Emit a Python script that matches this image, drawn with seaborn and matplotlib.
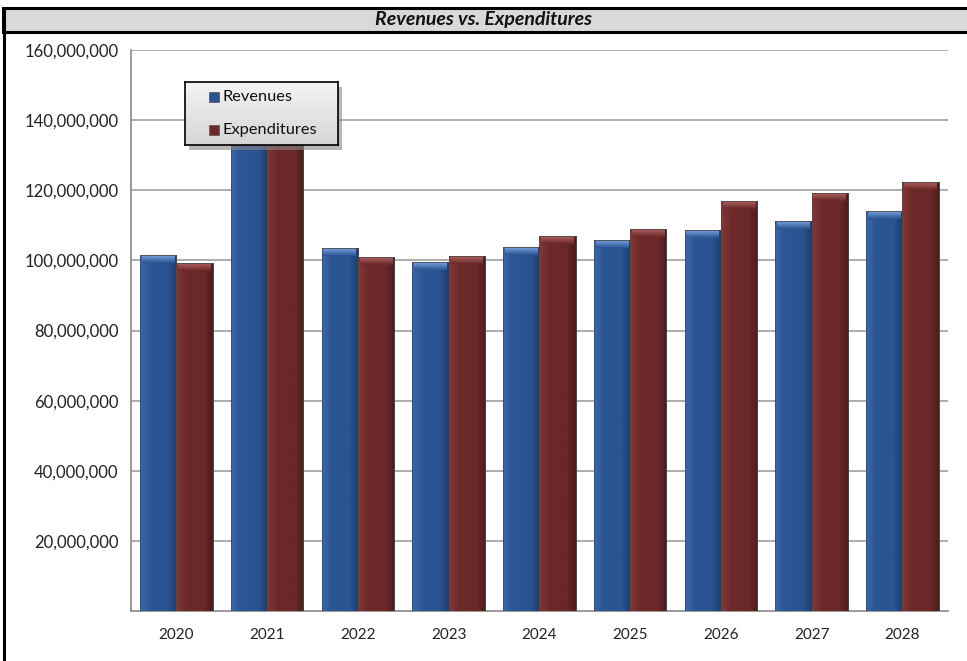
import numpy as np
import pandas as pd
import matplotlib
matplotlib.use("Agg")
import matplotlib.pyplot as plt
import matplotlib.ticker as mticker
from matplotlib.patches import Rectangle
from matplotlib.colors import LinearSegmentedColormap
import seaborn as sns

years = ["2020", "2021", "2022", "2023", "2024", "2025", "2026", "2027", "2028"]
revenues = [101.5e6, 142.5e6, 103.4e6, 99.4e6, 103.8e6, 105.9e6, 108.6e6, 111.1e6, 114.0e6]
expenditures = [99.3e6, 141.0e6, 100.9e6, 101.3e6, 106.9e6, 109.0e6, 117.0e6, 119.2e6, 122.3e6]
series = ["Revenues", "Expenditures"]
yticks = [20e6, 40e6, 60e6, 80e6, 100e6, 120e6, 140e6, 160e6]

blue = "#2A5491"
red = "#6B2828"

df = pd.DataFrame({
    "Year": years * 2,
    "Amount": revenues + expenditures,
    "Series": [series[0]] * len(years) + [series[1]] * len(years),
})

sns.set_style("white")
plt.rcParams["font.family"] = ["Lato", "DejaVu Sans"]

W, H = 967, 661
fig = plt.figure(figsize=(W / 100, H / 100), dpi=100)
ax = fig.add_axes([0.1355, 0.0756, 0.8445, 0.8488])

sns.barplot(data=df, x="Year", y="Amount", hue="Series",
            palette=[blue, red], saturation=1, width=0.8, ax=ax,
            edgecolor="#4a4a4a", linewidth=0.6, zorder=3, legend=False)

ax.set_ylim(0, 160e6)
ax.set_xlim(-0.5, len(years) - 0.5)

# bevel shading on each bar
shades = [
    (LinearSegmentedColormap.from_list("b", ["#3a68aa", "#2c5796", "#2a5491", "#2a5491", "#1d3d6c"]), "#78a4e0"),
    (LinearSegmentedColormap.from_list("r", ["#813838", "#6e2a2a", "#6b2828", "#6b2828", "#4e1b1b"]), "#b06060"),
]
grad = np.linspace(0, 1, 64).reshape(1, -1)
vgrad = np.linspace(0, 1, 32).reshape(-1, 1)
cap_h = 8 * 160e6 / (0.8488 * H)
for i, cont in enumerate(ax.containers):
    cm, capc = shades[i]
    capmap = LinearSegmentedColormap.from_list("c%d" % i, [cm(0.6), capc])
    for p in cont.patches:
        x, y0 = p.get_x(), p.get_y()
        w, h = p.get_width(), p.get_height()
        im = ax.imshow(grad, extent=[x, x + w, y0, y0 + h], cmap=cm,
                       aspect="auto", zorder=3.5)
        im.set_clip_path(p)
        im2 = ax.imshow(vgrad, extent=[x + w * 0.05, x + w * 0.95, y0 + h - cap_h, y0 + h - cap_h * 0.1],
                        cmap=capmap, origin="lower", aspect="auto", zorder=3.6)
        im2.set_clip_path(p)
        ax.add_patch(Rectangle((x, y0), w, h, facecolor="none",
                               edgecolor="#4a4a4a", linewidth=0.6, zorder=3.7))
ax.set_ylim(0, 160e6)
ax.set_xlim(-0.5, len(years) - 0.5)
ax.set_aspect("auto")

ax.yaxis.set_major_locator(mticker.FixedLocator(yticks))
ax.yaxis.set_major_formatter(mticker.FuncFormatter(lambda v, _: f"{v:,.0f}"))
ax.yaxis.grid(True, color="#a0a0a0", linewidth=1.2, zorder=0)
ax.set_axisbelow(True)

ax.xaxis.set_minor_locator(mticker.FixedLocator(np.arange(-0.5, len(years), 1)))
ax.tick_params(axis="x", which="major", length=0, labelsize=11, pad=12, labelcolor="#222222")
ax.tick_params(axis="x", which="minor", length=5, color="#888888", direction="out")
ax.tick_params(axis="y", which="major", length=5, color="#888888", direction="out",
               labelsize=12, labelcolor="#222222", pad=4)

for s in ["top", "right"]:
    ax.spines[s].set_visible(False)
for s in ["left", "bottom"]:
    ax.spines[s].set_color("#888888")
    ax.spines[s].set_linewidth(1.2)

ax.set_xlabel("")
ax.set_ylabel("")

# legend box drawn in figure pixels
def fx(px):
    return px / W

def fy(py):
    return 1 - py / H

fig.patches.append(Rectangle((fx(189), fy(150)), fx(153), 63 / H, transform=fig.transFigure,
                             facecolor="#8a8a8a", edgecolor="none", alpha=0.6, zorder=20))
lgrad = np.linspace(0, 1, 32).reshape(-1, 1)
lax = fig.add_axes([fx(185), fy(145), fx(153), 63 / H], zorder=21)
lax.imshow(lgrad, cmap=LinearSegmentedColormap.from_list("lg", ["#f4f4f4", "#d6d6d6"]),
           aspect="auto", extent=[0, 1, 0, 1], origin="upper")
lax.set_xlim(0, 1)
lax.set_ylim(0, 1)
lax.set_xticks([])
lax.set_yticks([])
for s in lax.spines.values():
    s.set_color("black")
    s.set_linewidth(1.2)
rows = [97, 130]
for (label, col), ry in zip(zip(series, [blue, red]), rows):
    lax.add_patch(Rectangle(((209 - 185) / 153, (145 - ry - 5) / 63), 10 / 153, 10 / 63,
                            facecolor=col, edgecolor="#555555", linewidth=0.5))
    lax.text((223 - 185) / 153, (145 - ry) / 63, label, fontsize=11.8,
             va="center", ha="left", color="#111111")

# title band and outer border
fig.patches.append(Rectangle((0.003, fy(32)), 1.0, 24 / H, transform=fig.transFigure,
                             facecolor="#d9d9d9", edgecolor="black", linewidth=2.2, zorder=1))
fig.lines.append(plt.Line2D([fx(3.5), fx(3.5)], [0, fy(8)], transform=fig.transFigure,
                            color="black", linewidth=2.2))
fig.text(0.5, fy(20), "Revenues vs. Expenditures", ha="center", va="center",
         fontsize=14, fontweight="bold", fontstyle="italic", color="#111111")

fig.savefig("out.png", dpi=100)
